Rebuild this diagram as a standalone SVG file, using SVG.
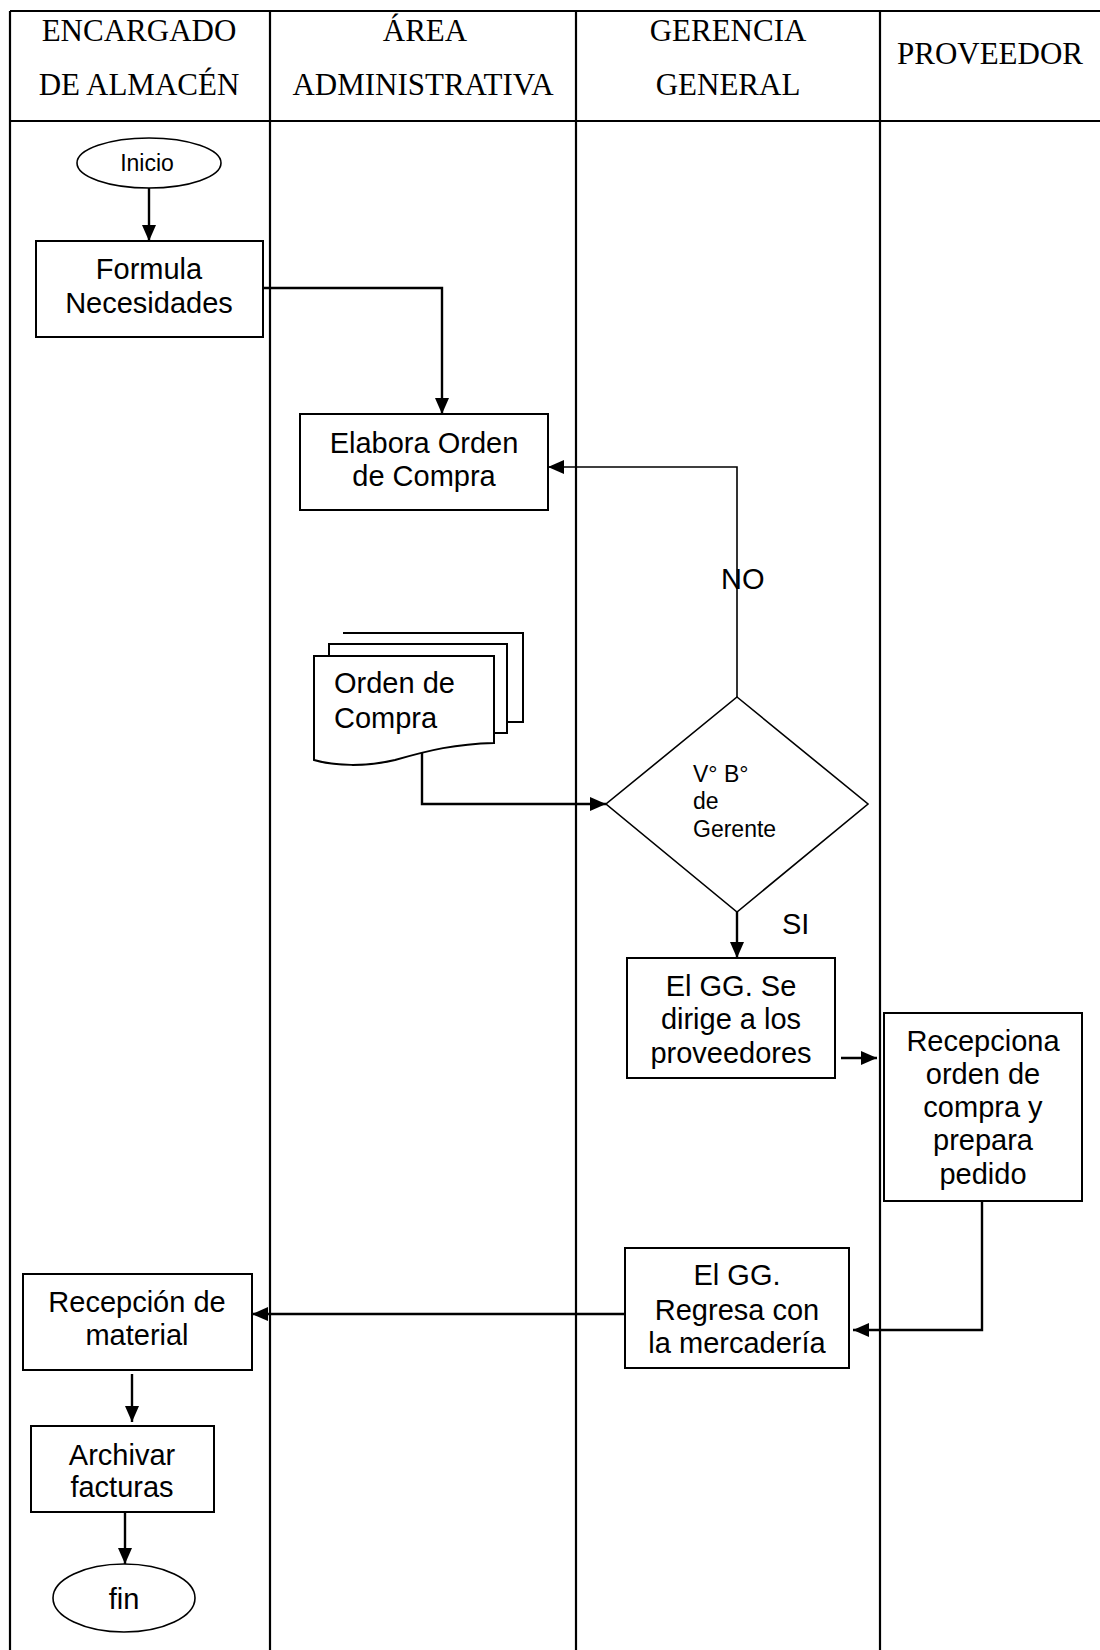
<svg xmlns="http://www.w3.org/2000/svg" width="1100" height="1650" viewBox="0 0 1100 1650">
  <defs>
    <marker id="arrow" markerUnits="userSpaceOnUse" markerWidth="16" markerHeight="14" refX="16" refY="7" orient="auto">
      <path d="M0,0 L16,7 L0,14 Z" fill="#000"/>
    </marker>
    <style>
      .lane{stroke:#000;stroke-width:2.2;fill:none}
      .hdr{font-family:"Liberation Serif","Times New Roman",serif;font-size:31px;text-anchor:middle;fill:#000}
      .box{fill:#fff;stroke:#000;stroke-width:2}
      .thin{fill:#fff;stroke:#000;stroke-width:1.6}
      .txt{font-family:"Liberation Sans",Arial,sans-serif;font-size:29px;fill:#000;text-anchor:middle}
      .left{text-anchor:start}
      .small{font-size:23px}
      .conn{fill:none;stroke:#000;stroke-width:2.4}
      .conn-thin{fill:none;stroke:#000;stroke-width:1.6}
    </style>
  </defs>

  <rect width="1100" height="1650" fill="#fff"/>

  <!-- swimlane table -->
  <g id="lanes" class="lane">
    <line x1="10" y1="11" x2="1100" y2="11"/>
    <line x1="10" y1="121" x2="1100" y2="121"/>
    <line x1="10" y1="11" x2="10" y2="1650"/>
    <line x1="270" y1="11" x2="270" y2="1650"/>
    <line x1="576" y1="11" x2="576" y2="1650"/>
    <line x1="880" y1="11" x2="880" y2="1650"/>
  </g>

  <g id="headers" class="hdr">
    <text x="139" y="41">ENCARGADO</text>
    <text x="139" y="95">DE ALMACÉN</text>
    <text x="425" y="41">ÁREA</text>
    <text x="423" y="95">ADMINISTRATIVA</text>
    <text x="728" y="41">GERENCIA</text>
    <text x="728" y="95">GENERAL</text>
    <text x="990" y="64">PROVEEDOR</text>
  </g>

  <!-- connectors -->
  <g id="connectors">
    <path class="conn" d="M149,188 L149,241" marker-end="url(#arrow)"/>
    <path class="conn" d="M263,288 L442,288 L442,414" marker-end="url(#arrow)"/>
    <path class="conn-thin" d="M737,697 L737,467 L548,467" marker-end="url(#arrow)"/>
    <path class="conn" d="M422,753 L422,804 L606,804" marker-end="url(#arrow)"/>
    <path class="conn" d="M737,912 L737,958" marker-end="url(#arrow)"/>
    <path class="conn" d="M841,1058 L877,1058" marker-end="url(#arrow)"/>
    <path class="conn" d="M982,1201 L982,1330 L853,1330" marker-end="url(#arrow)"/>
    <path class="conn" d="M625,1314 L252,1314" marker-end="url(#arrow)"/>
    <path class="conn" d="M132,1374 L132,1422" marker-end="url(#arrow)"/>
    <path class="conn" d="M125,1512 L125,1564" marker-end="url(#arrow)"/>
  </g>

  <!-- branch labels -->
  <g id="labels" class="txt left">
    <text x="721" y="589">NO</text>
    <text x="782" y="934">SI</text>
  </g>

  <g id="inicio">
    <ellipse class="thin" cx="149" cy="163" rx="72" ry="25"/>
    <text class="txt small" x="147" y="171">Inicio</text>
  </g>

  <g id="formula">
    <rect class="box" x="36" y="241" width="227" height="96"/>
    <text class="txt" x="149" y="279">Formula</text>
    <text class="txt" x="149" y="313">Necesidades</text>
  </g>

  <g id="elabora">
    <rect class="box" x="300" y="414" width="248" height="96"/>
    <text class="txt" x="424" y="453">Elabora Orden</text>
    <text class="txt" x="424" y="486">de Compra</text>
  </g>

  <g id="orden">
    <path class="box" d="M343,633 L523,633 L523,722 L507,722"/>
    <path class="box" d="M329,656 L329,644 L507,644 L507,733 L494,733"/>
    <path class="box" d="M314,656 L494,656 L494,743 C455,744 430,750 395,760 C365,767 335,766 314,760 Z"/>
    <text class="txt left" x="334" y="693">Orden de</text>
    <text class="txt left" x="334" y="728">Compra</text>
  </g>

  <g id="visto">
    <polygon class="thin" points="737,697 868,804 737,912 606,804"/>
    <text class="txt left small" x="693" y="782">V° B°</text>
    <text class="txt left small" x="693" y="809">de</text>
    <text class="txt left small" x="693" y="837">Gerente</text>
  </g>

  <g id="dirige">
    <rect class="box" x="627" y="958" width="208" height="120"/>
    <text class="txt" x="731" y="996">El GG. Se</text>
    <text class="txt" x="731" y="1029">dirige a los</text>
    <text class="txt" x="731" y="1063">proveedores</text>
  </g>

  <g id="recepciona">
    <rect class="box" x="884" y="1013" width="198" height="188"/>
    <text class="txt" x="983" y="1051">Recepciona</text>
    <text class="txt" x="983" y="1084">orden de</text>
    <text class="txt" x="983" y="1117">compra y</text>
    <text class="txt" x="983" y="1150">prepara</text>
    <text class="txt" x="983" y="1184">pedido</text>
  </g>

  <g id="regresa">
    <rect class="box" x="625" y="1248" width="224" height="120"/>
    <text class="txt" x="737" y="1285">El GG.</text>
    <text class="txt" x="737" y="1320">Regresa con</text>
    <text class="txt" x="737" y="1353">la mercadería</text>
  </g>

  <g id="recepcion">
    <rect class="box" x="23" y="1274" width="229" height="96"/>
    <text class="txt" x="137" y="1312">Recepción de</text>
    <text class="txt" x="137" y="1345">material</text>
  </g>

  <g id="archivar">
    <rect class="box" x="31" y="1426" width="183" height="86"/>
    <text class="txt" x="122" y="1465">Archivar</text>
    <text class="txt" x="122" y="1497">facturas</text>
  </g>

  <g id="fin">
    <ellipse class="thin" cx="124" cy="1598" rx="71" ry="34"/>
    <text class="txt" x="124" y="1609">fin</text>
  </g>
</svg>
